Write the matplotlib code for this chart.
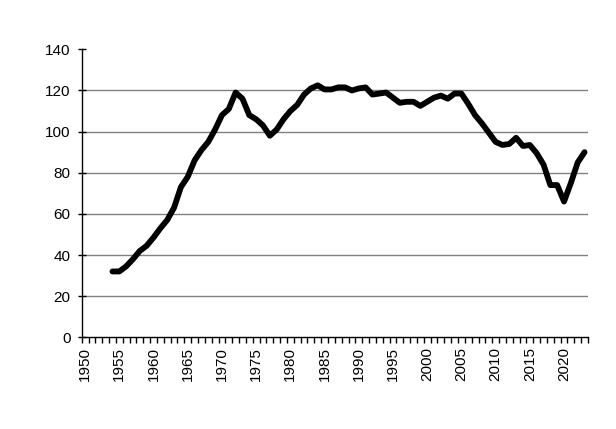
import matplotlib
matplotlib.use("Agg")
import matplotlib.pyplot as plt

years = list(range(1954, 2024))
values = [32, 32, 34.5, 38, 42, 44.5, 48.5, 53, 57, 63,
          73, 78, 86, 91, 95, 101, 108, 111, 119, 116,
          108, 106, 103, 98, 101, 106, 110, 113, 118, 121,
          122.5, 120.5, 120.5, 121.5, 121.5, 120, 121, 121.5, 118, 118.5,
          119, 116.5, 114, 114.5, 114.5, 112.5, 114.5, 116.5, 117.5, 116,
          118.5, 118.5, 113.5, 108, 104, 99.5, 95, 93.5, 94, 97,
          93, 93.5, 89.5, 84, 74, 74, 66, 75, 85, 90]
axis_first, axis_last = 1950, 2023
xlabels = list(range(1950, 2021, 5))
yticks = [0, 20, 40, 60, 80, 100, 120, 140]

plt.rcParams['font.family'] = ['Liberation Sans', 'DejaVu Sans']

fig = plt.figure(figsize=(6.16, 4.29), dpi=100)
ax = fig.add_axes([0.1326, 0.2138, 0.9545 - 0.1326, 0.885 - 0.2138])

for y in yticks[1:-1]:
    ax.axhline(y, color='#808080', lw=1.0, zorder=1)

ax.plot(years, values, color='black', lw=4.2, solid_joinstyle='round',
        solid_capstyle='round', zorder=3)

ax.set_xlim(axis_first - 0.5, axis_last + 0.5)
ax.set_ylim(0, 140)
ax.set_yticks(yticks)
ax.set_yticklabels([str(v) for v in yticks], fontsize=11)
ax.tick_params(axis='y', direction='inout', length=6, width=1, pad=5)

ax.set_xticks(xlabels)
ax.set_xticklabels([str(v) for v in xlabels], rotation=90, fontsize=11)
ax.tick_params(axis='x', which='major', length=0, pad=7)
ax.set_xticks([axis_first - 0.5 + i for i in range(axis_last - axis_first + 2)], minor=True)
ax.tick_params(axis='x', which='minor', direction='out', length=4, width=1)

for s in ['top', 'right']:
    ax.spines[s].set_visible(False)
for s in ['left', 'bottom']:
    ax.spines[s].set_linewidth(1.0)
    ax.spines[s].set_color('black')

fig.savefig('out.png', dpi=100)
